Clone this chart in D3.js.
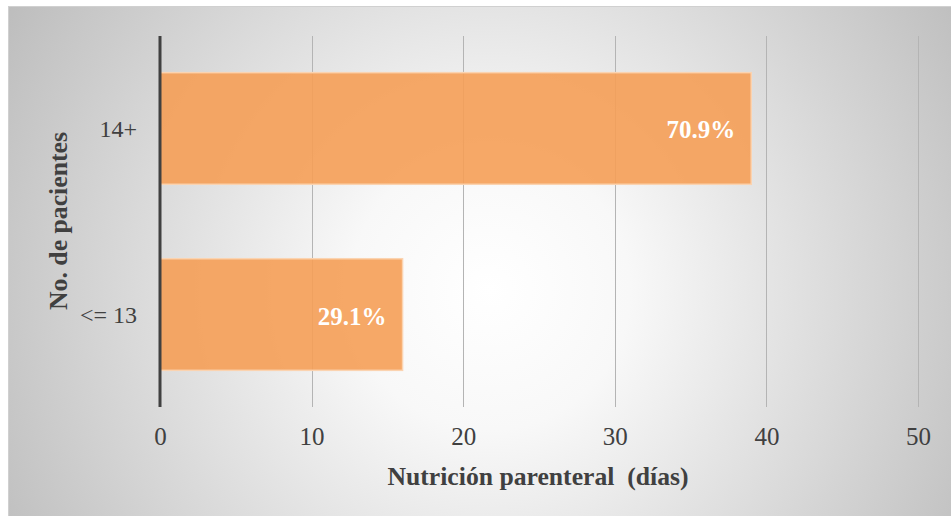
<!DOCTYPE html>
<html><head><meta charset="utf-8">
<script src="https://cdn.jsdelivr.net/npm/d3@7"></script>
<style>html,body{margin:0;padding:0;background:#fff;}svg{display:block;}</style>
</head><body>
<svg id="c" width="951" height="516"></svg>
<script>
const categories = ["14+", "<= 13"];
const values = [39, 16];
const labels = ["70.9%", "29.1%"];
const ticks = [0, 10, 20, 30, 40, 50];

const svg = d3.select("#c");
const defs = svg.append("defs");
const g = defs.append("radialGradient").attr("id","bg")
  .attr("gradientUnits","userSpaceOnUse").attr("cx",490).attr("cy",290).attr("r",560);
g.append("stop").attr("offset","0%").attr("stop-color","#ffffff");
g.append("stop").attr("offset","25%").attr("stop-color","#f8f8f8");
g.append("stop").attr("offset","100%").attr("stop-color","#bdbdbd");

svg.append("rect").attr("x",8.5).attr("y",6.5).attr("width",950).attr("height",520)
  .attr("fill","url(#bg)").attr("stroke","#d0d0d0").attr("stroke-width",1);

const x = d3.scaleLinear().domain([0,50]).range([160,918]);
const y = d3.scaleBand().domain(categories).range([36,407]).paddingInner(0.4).paddingOuter(0.197);

// gridlines
svg.append("g").selectAll("line").data(ticks.slice(1)).join("line")
  .attr("x1",d=>Math.round(x(d))+0.5).attr("x2",d=>Math.round(x(d))+0.5)
  .attr("y1",36).attr("y2",407).attr("stroke","#b4b4b4").attr("stroke-width",1);

// bars
svg.append("g").selectAll("rect").data(categories).join("rect")
  .attr("x",x(0)).attr("y",d=>y(d))
  .attr("width",(d,i)=>x(values[i])-x(0)).attr("height",y.bandwidth())
  .attr("fill","rgb(245,158,86)").attr("fill-opacity",0.9)
  .attr("stroke","#fbd3b0").attr("stroke-width",1.5);

// zero axis
svg.append("line").attr("x1",x(0)).attr("x2",x(0)).attr("y1",36).attr("y2",407)
  .attr("stroke","#404040").attr("stroke-width",3);

// value labels
svg.append("g").selectAll("text").data(categories).join("text")
  .attr("x",(d,i)=>x(values[i])-16).attr("y",d=>y(d)+y.bandwidth()/2+10)
  .attr("text-anchor","end").attr("fill","#fff")
  .attr("font-family","'Liberation Serif'").attr("font-weight","bold").attr("font-size",25)
  .text((d,i)=>labels[i]);

// x tick labels
const xa = d3.axisBottom(x).tickValues(ticks).tickSize(0).tickPadding(0);
const xg = svg.append("g").attr("transform","translate(0,445)").call(xa);
xg.select(".domain").remove();
xg.selectAll("text").attr("font-family","'Liberation Serif'").attr("font-size",25)
  .attr("fill","#404040").attr("dy","0");

// y tick labels
const ya = d3.axisLeft(y).tickSize(0).tickPadding(23);
const yg = svg.append("g").attr("transform",`translate(${x(0)},0)`).call(ya);
yg.select(".domain").remove();
yg.selectAll("text").attr("font-family","'Liberation Serif'").attr("font-size",24)
  .attr("fill","#404040").attr("dy","0.36em");

// titles
svg.append("text").attr("x",538).attr("y",485).attr("text-anchor","middle")
  .style("white-space","pre")
  .attr("font-family","'Liberation Serif'").attr("font-weight","bold").attr("font-size",25)
  .attr("fill","#404040").attr("textLength",301).attr("lengthAdjust","spacingAndGlyphs")
  .text("Nutrición parenteral  (días)");
svg.append("text").attr("transform","translate(67,221) rotate(-90)").attr("text-anchor","middle")
  .attr("font-family","'Liberation Serif'").attr("font-weight","bold").attr("font-size",25)
  .attr("fill","#404040").attr("textLength",178).attr("lengthAdjust","spacingAndGlyphs")
  .text("No. de pacientes");
</script>
</body></html>
